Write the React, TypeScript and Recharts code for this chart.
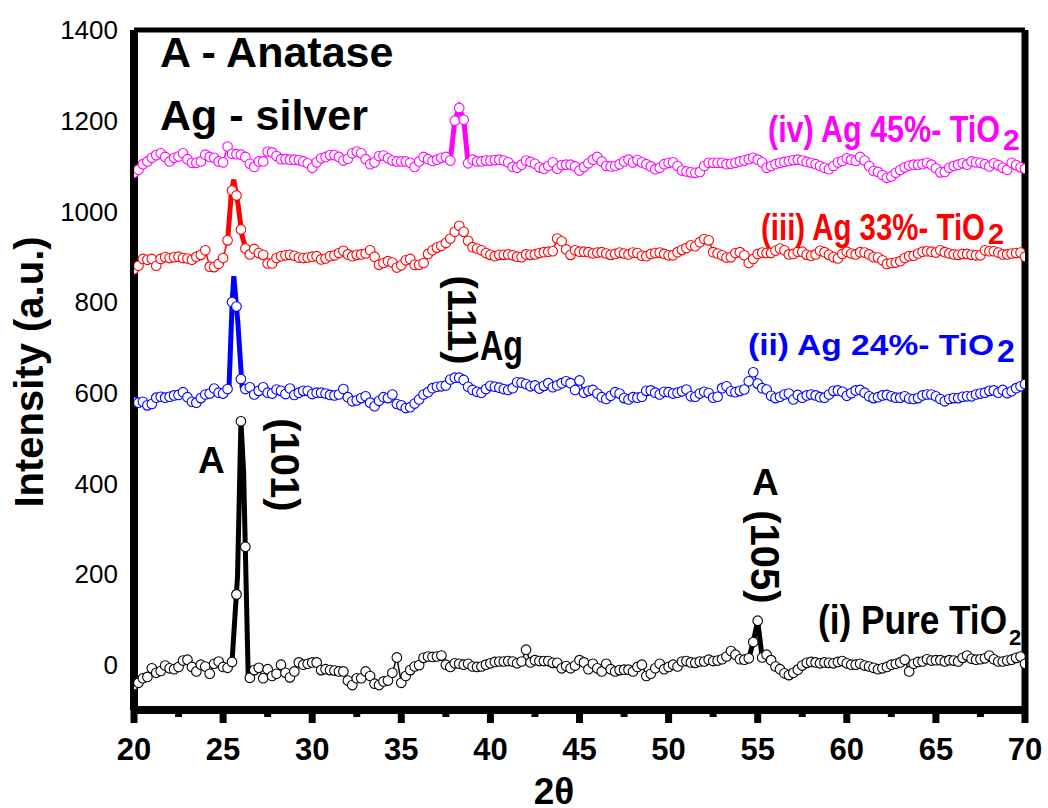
import React from "react";
import { LineChart, Line, XAxis, YAxis } from "recharts";

// 2θ sampling grid (0.25° step)
const theta = Array.from({ length: 201 }, (_, i) => 20 + i * 0.25);

const pureTiO2 = [
  -45, -40, -30, -27, -8, -18, -14, -2, -8, -10,
  -5, 9, 11, -5, -15, 0, -4, -20, 2, 7,
  -5, -7, 6, 155, 537, 260, -29, -12, -7, -30,
  -10, -25, -20, 0, -18, -28, -15, 5, 0, 2,
  5, 5, -12, -10, -12, -13, -15, -15, -35, -45,
  -30, -30, -15, -25, -42, -45, -37, -35, -18, 16,
  -40, -25, -12, -4, -1, 15, 18, 17, 18, 20,
  0, -5, 3, 2, 0, 2, -4, -5, -4, 0,
  3, 6, 7, 7, 8, 7, 3, 7, 33, 5,
  10, 8, 8, 8, 4, 4, -8, -3, -8, -2,
  10, 5, -10, 2, -8, -15, 2, -10, -15, -12,
  -11, -11, -15, -5, 0, -25, -20, -8, 2, -10,
  -5, 0, -4, 7, 8, 5, 4, 7, 7, 11,
  8, 9, 12, 18, 30, 22, 12, 11, 14, 50,
  97, 16, 22, 10, -4, -10, -19, -23, -18, -11,
  -2, 4, 6, 5, 3, 5, 4, 3, 6, 8,
  3, 0, 0, 2, -2, -4, -7, -10, -8, -5,
  0, 2, 5, 11, -15, 2, 6, 7, 12, 9,
  10, 10, 7, 10, 9, 7, 15, 20, 13, 11,
  12, 14, 20, 12, 7, 7, 9, 11, 15, 18,
  2,
];

const ag24 = [
  580, 578, 580, 572, 575, 589, 591, 589, 591, 594,
  595, 601, 590, 580, 578, 588, 596, 598, 609, 600,
  598, 608, 800, 790, 630, 608, 612, 596, 604, 612,
  600, 598, 607, 604, 597, 609, 595, 600, 604, 604,
  597, 600, 600, 598, 595, 594, 596, 608, 590, 581,
  583, 588, 592, 578, 570, 582, 590, 588, 596, 575,
  572, 566, 568, 576, 585, 596, 601, 610, 613, 614,
  616, 629, 633, 633, 628, 613, 606, 602, 600, 608,
  615, 613, 611, 608, 606, 610, 623, 622, 619, 614,
  616, 609, 615, 621, 612, 616, 621, 625, 621, 606,
  627, 600, 604, 606, 598, 590, 586, 593, 601, 598,
  588, 585, 590, 589, 591, 604, 605, 600, 596, 602,
  601, 598, 600, 603, 607, 592, 591, 598, 602, 599,
  589, 591, 610, 614, 603, 601, 604, 607, 625, 645,
  620, 610, 607, 593, 588, 591, 596, 598, 585, 595,
  589, 594, 596, 594, 590, 589, 596, 604, 605, 602,
  593, 599, 605, 606, 600, 592, 588, 590, 594, 595,
  592, 589, 589, 592, 587, 586, 588, 594, 596, 596,
  592, 586, 581, 586, 588, 588, 591, 592, 592, 596,
  598, 600, 604, 605, 600, 606, 599, 603, 610, 614,
  619,
];

const ag33 = [
  872, 880, 895, 893, 895, 880, 895, 899, 897, 899,
  900, 897, 896, 893, 900, 904, 914, 878, 877, 884,
  897, 936, 1046, 1035, 960, 918, 905, 917, 908, 904,
  885, 885, 897, 901, 903, 904, 902, 898, 897, 898,
  900, 901, 894, 896, 901, 903, 908, 913, 905, 901,
  904, 905, 907, 914, 900, 882, 886, 890, 887, 876,
  881, 892, 895, 882, 882, 886, 906, 914, 920, 924,
  930, 940, 955, 968, 955, 935, 921, 918, 914, 908,
  904, 901, 904, 904, 905, 903, 900, 899, 905, 904,
  905, 908, 910, 911, 912, 940, 934, 916, 904, 914,
  911, 911, 910, 907, 909, 910, 907, 904, 906, 909,
  907, 905, 909, 908, 902, 901, 906, 908, 909, 906,
  903, 903, 910, 915, 919, 925, 923, 932, 939, 936,
  910, 907, 903, 898, 899, 908, 910, 903, 886, 895,
  906, 909, 908, 908, 913, 918, 914, 905, 906, 911,
  911, 904, 902, 905, 913, 910, 904, 899, 896, 906,
  911, 907, 905, 910, 909, 905, 899, 898, 892, 884,
  886, 887, 890, 897, 901, 902, 907, 911, 912, 911,
  909, 914, 910, 907, 905, 904, 906, 906, 904, 903,
  903, 914, 912, 912, 909, 905, 905, 907, 908, 909,
  900,
];

const ag45 = [
  1085, 1092, 1104, 1110, 1118, 1124, 1128, 1120, 1110, 1118,
  1121, 1128, 1115, 1107, 1107, 1110, 1125, 1120, 1118, 1110,
  1108, 1143, 1127, 1126, 1125, 1120, 1105, 1098, 1110, 1110,
  1132, 1130, 1122, 1115, 1115, 1114, 1114, 1113, 1110, 1106,
  1096, 1108, 1117, 1120, 1124, 1124, 1120, 1112, 1116, 1128,
  1132, 1128, 1115, 1104, 1108, 1122, 1123, 1117, 1112, 1110,
  1110, 1110, 1107, 1098, 1110, 1120, 1115, 1111, 1114, 1118,
  1120, 1112, 1200, 1228, 1202, 1106, 1114, 1110, 1110, 1112,
  1112, 1113, 1114, 1112, 1108, 1098, 1096, 1103, 1112, 1109,
  1105, 1097, 1094, 1100, 1108, 1094, 1102, 1103, 1103, 1099,
  1090, 1098, 1106, 1114, 1120, 1110, 1100, 1099, 1100, 1104,
  1110, 1114, 1108, 1113, 1108, 1104, 1099, 1093, 1096, 1104,
  1107, 1108, 1100, 1090, 1088, 1086, 1085, 1087, 1100, 1107,
  1107, 1107, 1107, 1104, 1105, 1107, 1110, 1112, 1115, 1118,
  1114, 1108, 1096, 1100, 1104, 1107, 1109, 1111, 1113, 1114,
  1112, 1109, 1107, 1104, 1100, 1096, 1093, 1100, 1108, 1111,
  1117, 1114, 1111, 1120, 1112, 1100, 1089, 1087, 1080, 1074,
  1077, 1085, 1091, 1097, 1101, 1103, 1103, 1104, 1107, 1103,
  1095, 1086, 1087, 1096, 1100, 1103, 1106, 1103, 1110, 1108,
  1107, 1104, 1099, 1106, 1102, 1096, 1092, 1107, 1102, 1097,
  1094,
];

// reflection peaks (drawn heavier, as in the original)
const pureA101Theta = [25.5, 25.81, 26.0, 26.15, 26.41];
const pureA101Value = [6, 195, 537, 426, -29];
const pureA105Theta = [54.5, 54.75, 55.0, 55.25];
const pureA105Value = [14, 50, 97, 16];
const ag24PeakTheta = [25.33, 25.51, 25.6, 25.83, 26.07];
const ag24PeakValue = [609, 801, 857, 754, 610];
const ag33PeakTheta = [25.25, 25.47, 25.6, 25.84, 26.07, 26.41];
const ag33PeakValue = [934, 1044, 1070, 1015, 945, 899];
const ag45PeakTheta = [37.75, 38.0, 38.25, 38.5, 38.75];
const ag45PeakValue = [1112, 1200, 1228, 1202, 1106];

const xTicks = [20, 22.5, 25, 27.5, 30, 32.5, 35, 37.5, 40, 42.5, 45, 47.5, 50, 52.5, 55, 57.5, 60, 62.5, 65, 67.5, 70];
const yTicks = [0, 200, 400, 600, 800, 1000, 1200, 1400];

const ARIAL = "'Liberation Sans', Arial, Helvetica, sans-serif";
const NARROW = "'Liberation Sans Narrow', 'Arial Narrow', 'Liberation Sans', Arial, sans-serif";

const rows = (xs: number[], ys: number[]) => xs.map((x, i) => ({ theta: x, v: ys[i] }));

const series = [
  { name: "pure", color: "#000000", values: pureTiO2 },
  { name: "ag24", color: "#0000FF", values: ag24 },
  { name: "ag33", color: "#FF0000", values: ag33 },
  { name: "ag45", color: "#FF00FF", values: ag45 },
];

const peaks = [
  { name: "p101", color: "#000000", data: rows(pureA101Theta, pureA101Value) },
  { name: "p105", color: "#000000", data: rows(pureA105Theta, pureA105Value) },
  { name: "p24", color: "#0000FF", data: rows(ag24PeakTheta, ag24PeakValue) },
  { name: "p33", color: "#FF0000", data: rows(ag33PeakTheta, ag33PeakValue) },
  { name: "p45", color: "#FF00FF", data: rows(ag45PeakTheta, ag45PeakValue) },
];

const XTick = (props: any) => {
  const { x, y, payload } = props;
  const major = payload.value % 5 === 0;
  return (
    <g>
      <line x1={x} x2={x} y1={y} y2={y + (major ? 13 : 7)} stroke="#000" strokeWidth={7} />
      {major && (
        <text x={x} y={y + 50} textAnchor="middle" fontSize={31} fontWeight="bold" fontFamily={ARIAL} fill="#000">
          {payload.value}
        </text>
      )}
    </g>
  );
};

export default function App() {
  return (
    <div style={{ position: "absolute", left: 0, top: 0, width: 1048, height: 808, background: "#fff" }}>
      <LineChart width={1048} height={808} margin={{ top: 29, right: 22, bottom: 38, left: 64 }}>
        <XAxis
          dataKey="theta"
          type="number"
          domain={[20, 70]}
          ticks={xTicks}
          interval={0}
          height={60}
          tickSize={0}
          tickMargin={0}
          tickLine={false}
          tick={<XTick />}
          axisLine={{ stroke: "#000", strokeWidth: 8 }}
          allowDataOverflow
        />
        <XAxis
          xAxisId="top"
          orientation="top"
          type="number"
          domain={[20, 70]}
          height={1}
          tick={false}
          tickLine={false}
          axisLine={{ stroke: "#000", strokeWidth: 5 }}
        />
        <YAxis
          type="number"
          domain={[-100, 1400]}
          ticks={yTicks}
          interval={0}
          width={70}
          tickSize={0}
          tickMargin={16}
          tickLine={false}
          tick={{ fontSize: 26, fill: "#000", fontFamily: ARIAL }}
          axisLine={{ stroke: "#000", strokeWidth: 8 }}
          allowDataOverflow
        />
        <YAxis
          yAxisId="right"
          orientation="right"
          type="number"
          domain={[-100, 1400]}
          width={1}
          tick={false}
          tickLine={false}
          axisLine={{ stroke: "#000", strokeWidth: 7 }}
        />
        {peaks.map((p) => (
          <Line
            key={p.name}
            data={p.data}
            dataKey="v"
            type="linear"
            stroke={p.color}
            strokeWidth={5}
            dot={false}
            isAnimationActive={false}
          />
        ))}
        {series.map((s) => (
          <Line
            key={s.name}
            data={rows(theta, s.values)}
            dataKey="v"
            type="linear"
            stroke={s.color}
            strokeWidth={1.5}
            dot={{ r: 4.8, fill: "#fff", stroke: s.color, strokeWidth: 1.1 }}
            isAnimationActive={false}
          />
        ))}
      </LineChart>
      <svg
        width={1048}
        height={808}
        style={{ position: "absolute", left: 0, top: 0, pointerEvents: "none" }}
      >
        <g fontFamily={ARIAL} fontWeight="bold" fill="#000">
          <text x={160} y={67} fontSize={43}>A - Anatase</text>
          <text x={160} y={130} fontSize={43}>Ag - silver</text>
          <text x={43} y={372} fontSize={40} textAnchor="middle" transform="rotate(-90 43 372)">
            Intensity (a.u.)
          </text>
          <text x={554} y={804} fontSize={37} textAnchor="middle">2θ</text>
          <text x={198} y={473} fontSize={37}>A</text>
          <text x={285} y={465} fontSize={40} textAnchor="middle" dominantBaseline="central" transform="rotate(90 285 465)">
            (101)
          </text>
          <text x={462} y={320} fontSize={40} textAnchor="middle" dominantBaseline="central" transform="rotate(90 462 320)">
            (111)
          </text>
          <text x={480} y={360} fontSize={42} fontFamily={NARROW} textLength={43} lengthAdjust="spacingAndGlyphs">Ag</text>
          <text x={752} y={495} fontSize={37}>A</text>
          <text x={765} y={557} fontSize={40} textAnchor="middle" dominantBaseline="central" transform="rotate(90 765 557)">
            (105)
          </text>
        </g>
        <g fontFamily={NARROW} fontWeight="bold">
          <text x={768} y={142} fontSize={37} fill="#FF00FF" textLength={232} lengthAdjust="spacingAndGlyphs">(iv) Ag 45%- TiO</text>
          <text x={1003} y={150} fontSize={30} fill="#FF00FF">2</text>
          <text x={761} y={240} fontSize={37} fill="#FF0000" textLength={224} lengthAdjust="spacingAndGlyphs">(iii) Ag 33%- TiO</text>
          <text x={988} y={244} fontSize={29} fill="#FF0000">2</text>
          <text x={748} y={355} fontSize={30} fill="#0000FF" textLength={246} lengthAdjust="spacingAndGlyphs">(ii) Ag 24%- TiO</text>
          <text x={997} y={362} fontSize={32} fill="#0000FF">2</text>
          <text x={818} y={634} fontSize={40} fill="#000" textLength={189} lengthAdjust="spacingAndGlyphs">(i) Pure TiO</text>
          <text x={1009} y={645} fontSize={22} fill="#000">2</text>
        </g>
      </svg>
    </div>
  );
}
